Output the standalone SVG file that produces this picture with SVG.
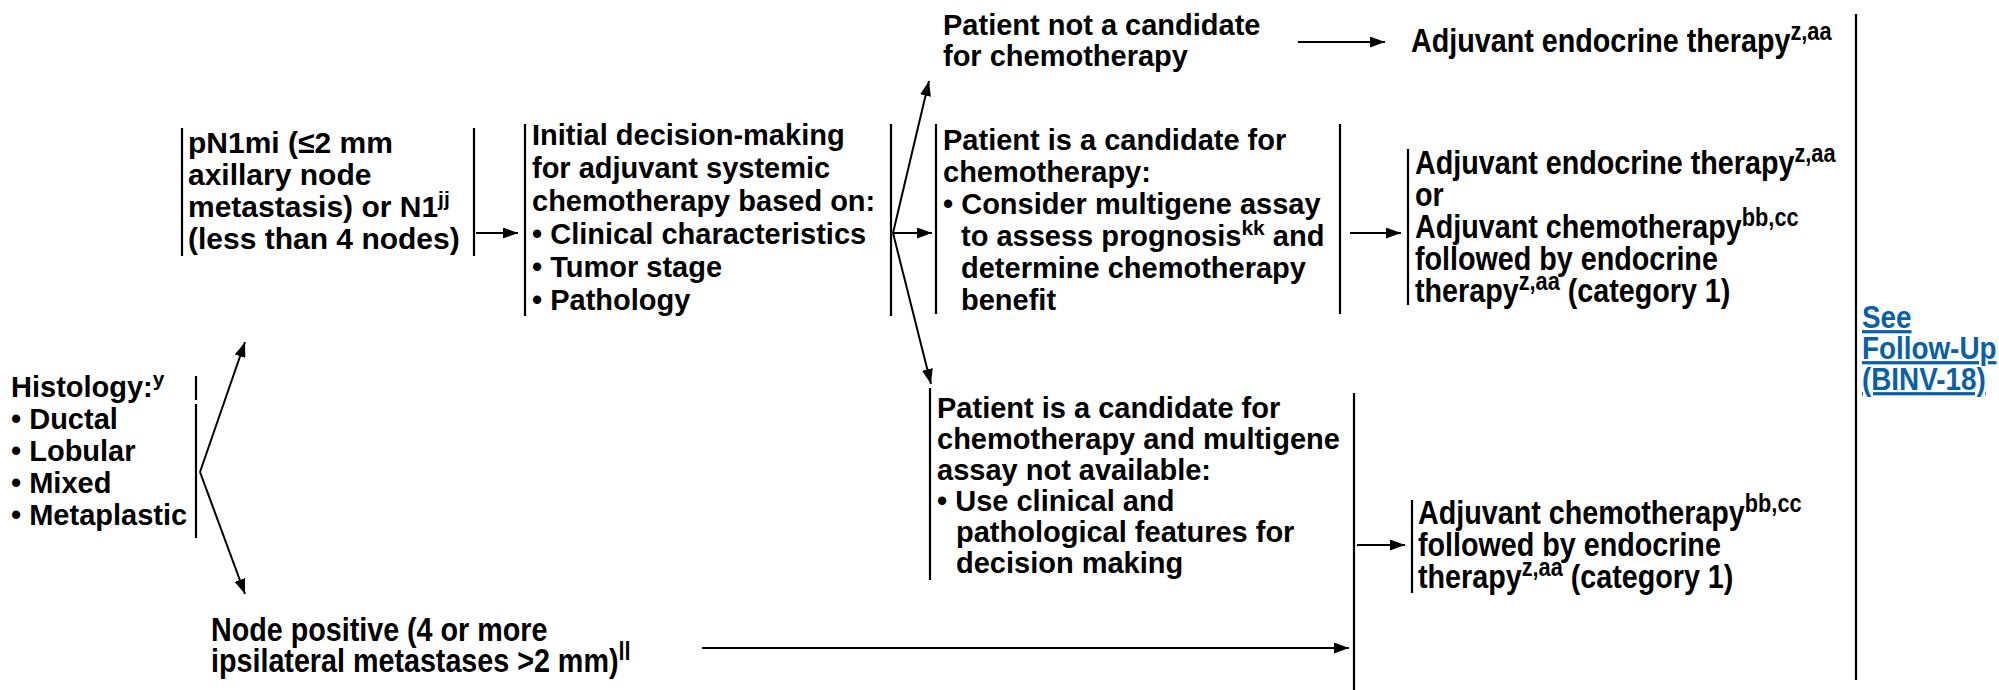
<svg xmlns="http://www.w3.org/2000/svg" width="1999" height="690" viewBox="0 0 1999 690">
  <defs>
    <style>
      .t { font-family: "Liberation Sans", Arial, sans-serif; font-weight: bold; font-size: 29px; fill: #000; }
      .t30 { font-size: 30px; }
      .n { font-family: "Liberation Sans", Arial, sans-serif; font-weight: bold; font-size: 33px; fill: #000; }
      .sup { font-size: 21px; }
      .n .sup { font-size: 25px; }
      .link { fill: #0b5fa5; text-decoration: underline; font-size: 32px; }
      .br { stroke: #000; stroke-width: 2.2; fill: none; }
      .edge { stroke: #000; stroke-width: 2; fill: none; marker-end: url(#arrow); }
    </style>
    <marker id="arrow" markerUnits="userSpaceOnUse" markerWidth="15" markerHeight="11" refX="15" refY="5.5" orient="auto">
      <path d="M0,0 L15,5.5 L0,11 z" fill="#000"/>
    </marker>
  </defs>
  <rect width="1999" height="690" fill="#fff"/>

  <!-- Histology -->
  <g id="histology">
    <text class="t" x="11" y="397">Histology:<tspan class="sup" dy="-11">y</tspan></text>
    <text class="t" x="11" y="429">• Ductal</text>
    <text class="t" x="11" y="461">• Lobular</text>
    <text class="t" x="11" y="493">• Mixed</text>
    <text class="t" x="11" y="525">• Metaplastic</text>
    <path class="br" d="M196,376V400M196,404V538"/>
  </g>

  <!-- pN1mi / N1 -->
  <g id="pn1mi">
    <path class="br" d="M182,128V256M474,128V256"/>
    <text class="t t30" x="188" y="153">pN1mi (≤2 mm</text>
    <text class="t t30" x="188" y="185">axillary node</text>
    <text class="t t30" x="188" y="217">metastasis) or N1<tspan class="sup" dy="-11">jj</tspan></text>
    <text class="t t30" x="188" y="249">(less than 4 nodes)</text>
  </g>

  <!-- Initial decision-making -->
  <g id="decision">
    <path class="br" d="M525,124V316M891,124V316"/>
    <text class="t" x="532" y="145">Initial decision-making</text>
    <text class="t" x="532" y="178">for adjuvant systemic</text>
    <text class="t" x="532" y="211">chemotherapy based on:</text>
    <text class="t" x="532" y="244">• Clinical characteristics</text>
    <text class="t" x="532" y="277">• Tumor stage</text>
    <text class="t" x="532" y="310">• Pathology</text>
  </g>

  <!-- Not a candidate -->
  <g id="not-candidate">
    <text class="t" x="943" y="35">Patient not a candidate</text>
    <text class="t" x="943" y="66">for chemotherapy</text>
  </g>

  <!-- Candidate, multigene assay -->
  <g id="candidate">
    <path class="br" d="M936,124V314M1340,124V314"/>
    <text class="t" x="943" y="150">Patient is a candidate for</text>
    <text class="t" x="943" y="182">chemotherapy:</text>
    <text class="t" x="943" y="214">• Consider multigene assay</text>
    <text class="t" x="961" y="246">to assess prognosis<tspan class="sup" dy="-11">kk</tspan><tspan dy="11"> and</tspan></text>
    <text class="t" x="961" y="278">determine chemotherapy</text>
    <text class="t" x="961" y="310">benefit</text>
  </g>

  <!-- Candidate, assay not available -->
  <g id="no-assay">
    <path class="br" d="M930,388V580"/>
    <text class="t" x="937" y="418">Patient is a candidate for</text>
    <text class="t" x="937" y="449">chemotherapy and multigene</text>
    <text class="t" x="937" y="480">assay not available:</text>
    <text class="t" x="937" y="511">• Use clinical and</text>
    <text class="t" x="956" y="542">pathological features for</text>
    <text class="t" x="956" y="573">decision making</text>
  </g>

  <!-- Node positive -->
  <g id="node-positive" transform="translate(211,0) scale(0.87,1)">
    <text class="n" x="0" y="641">Node positive (4 or more</text>
    <text class="n" x="0" y="672">ipsilateral metastases &gt;2 mm)<tspan class="sup" dy="-12">ll</tspan></text>
  </g>

  <!-- Endocrine therapy only -->
  <g id="endocrine" transform="translate(1411,0) scale(0.87,1)">
    <text class="n" x="0" y="52">Adjuvant endocrine therapy<tspan class="sup" dy="-12">z,aa</tspan></text>
  </g>

  <!-- Endocrine or chemotherapy -->
  <g id="endocrine-or-chemo">
    <path class="br" d="M1408,149V305"/>
    <g transform="translate(1415,0) scale(0.87,1)">
      <text class="n" x="0" y="174">Adjuvant endocrine therapy<tspan class="sup" dy="-12">z,aa</tspan></text>
      <text class="n" x="0" y="206">or</text>
      <text class="n" x="0" y="238">Adjuvant chemotherapy<tspan class="sup" dy="-12">bb,cc</tspan></text>
      <text class="n" x="0" y="270">followed by endocrine</text>
      <text class="n" x="0" y="302">therapy<tspan class="sup" dy="-12">z,aa</tspan><tspan dy="12"> (category 1)</tspan></text>
    </g>
  </g>

  <!-- Chemotherapy then endocrine -->
  <g id="chemo-then-endocrine">
    <path class="br" d="M1412,500V593"/>
    <g transform="translate(1418,0) scale(0.87,1)">
      <text class="n" x="0" y="524">Adjuvant chemotherapy<tspan class="sup" dy="-12">bb,cc</tspan></text>
      <text class="n" x="0" y="556">followed by endocrine</text>
      <text class="n" x="0" y="588">therapy<tspan class="sup" dy="-12">z,aa</tspan><tspan dy="12"> (category 1)</tspan></text>
    </g>
  </g>

  <!-- Follow-up link -->
  <g id="follow-up">
    <path class="br" d="M1856,14V680" stroke-width="2.6"/>
    <g transform="translate(1862,0) scale(0.87,1)">
      <text class="n link" x="0" y="328">See</text>
      <text class="n link" x="0" y="359">Follow-Up</text>
      <text class="n link" x="0" y="390">(BINV-18)</text>
    </g>
  </g>

  <!-- Connectors -->
  <g id="connectors">
    <path class="edge" d="M200,472L245,342"/>
    <path class="edge" d="M200,472L245,594"/>
    <path class="edge" d="M476,233H518"/>
    <path class="edge" d="M893,233L929,81"/>
    <path class="edge" d="M893,233H932"/>
    <path class="edge" d="M893,233L931,384"/>
    <path class="edge" d="M1298,42H1385"/>
    <path class="edge" d="M1350,233H1401"/>
    <path class="br" d="M1354,393V690"/>
    <path class="edge" d="M702,648H1349"/>
    <path class="edge" d="M1357,545H1405"/>
  </g>
</svg>
